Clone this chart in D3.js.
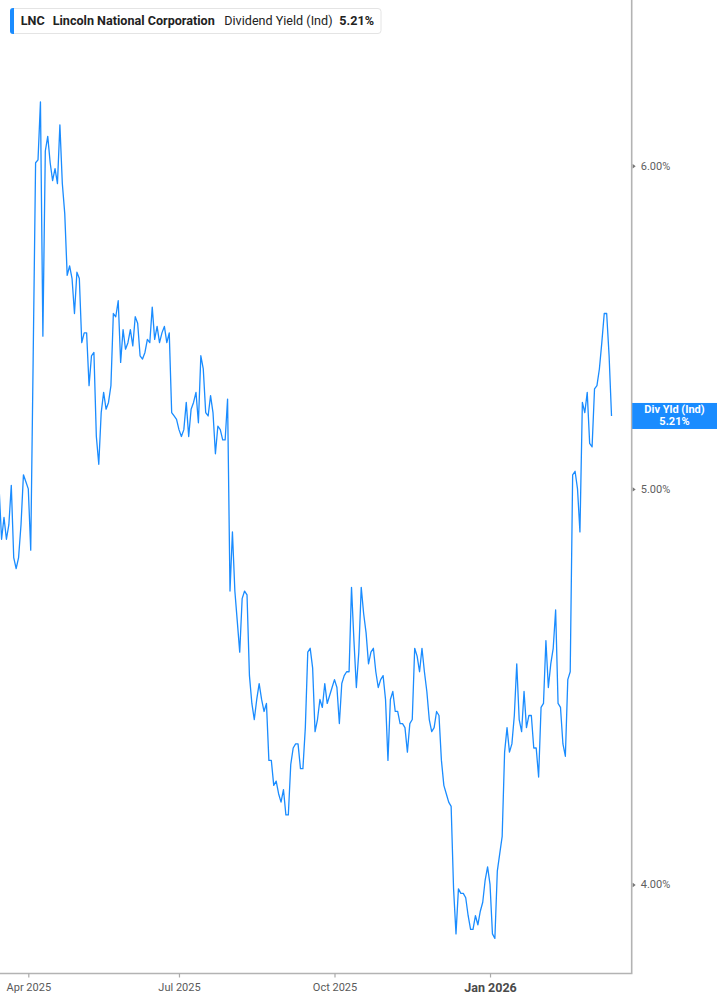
<!DOCTYPE html>
<html>
<head>
<meta charset="utf-8">
<script src="https://cdn.jsdelivr.net/npm/d3@7"></script>
<style>
  body { margin: 0; background: #fff; }
  text { font-family: Roboto, "Liberation Sans", sans-serif; }
</style>
</head>
<body>
<svg id="chart" width="717" height="1005"></svg>
<script>
const ticker = "LNC"
const company = "Lincoln National Corporation"
const metric = "Dividend Yield (Ind)"
const metricShort = "Div Yld (Ind)"

// daily dividend yield (%), one value per trading day, mid Mar 2025 -> mid Mar 2026
const yieldValues = [
  5.00, 4.86, 4.92, 4.86, 4.90, 5.01, 4.81, 4.78, 4.81, 4.90,
  5.04, 5.02, 5.00, 4.83, 5.38, 6.01, 6.02, 6.22, 5.45, 6.05,
  6.10, 6.01, 5.95, 5.99, 5.94, 6.14, 5.94, 5.84, 5.64, 5.67,
  5.63, 5.52, 5.65, 5.63, 5.43, 5.46, 5.46, 5.30, 5.39, 5.40,
  5.15, 5.07, 5.22, 5.28, 5.23, 5.25, 5.30, 5.52, 5.51, 5.56,
  5.37, 5.47, 5.41, 5.43, 5.47, 5.42, 5.51, 5.49, 5.39, 5.38,
  5.40, 5.44, 5.43, 5.54, 5.44, 5.48, 5.43, 5.46, 5.48, 5.43,
  5.46, 5.22, 5.21, 5.20, 5.17, 5.15, 5.17, 5.25, 5.15, 5.23,
  5.25, 5.28, 5.19, 5.39, 5.35, 5.22, 5.21, 5.27, 5.22, 5.10,
  5.18, 5.17, 5.14, 5.14, 5.26, 4.72, 4.88, 4.72, 4.64, 4.56,
  4.70, 4.72, 4.71, 4.50, 4.43, 4.39, 4.44, 4.48, 4.44, 4.41,
  4.43, 4.29, 4.29, 4.23, 4.24, 4.21, 4.19, 4.22, 4.16, 4.16,
  4.28, 4.32, 4.33, 4.33, 4.27, 4.27, 4.37, 4.56, 4.57, 4.52,
  4.36, 4.39, 4.44, 4.42, 4.48, 4.43, 4.45, 4.47, 4.49, 4.47,
  4.38, 4.48, 4.50, 4.51, 4.51, 4.73, 4.59, 4.47, 4.56, 4.73,
  4.66, 4.61, 4.53, 4.56, 4.57, 4.51, 4.47, 4.49, 4.50, 4.44,
  4.29, 4.44, 4.46, 4.41, 4.41, 4.38, 4.38, 4.37, 4.31, 4.38,
  4.39, 4.57, 4.55, 4.51, 4.57, 4.51, 4.46, 4.39, 4.36, 4.37,
  4.41, 4.40, 4.29, 4.23, 4.21, 4.19, 4.18, 3.99, 3.89, 3.99,
  3.98, 3.98, 3.97, 3.93, 3.90, 3.90, 3.93, 3.91, 3.94, 3.96,
  4.01, 4.04, 4.00, 3.89, 3.88, 4.03, 4.07, 4.11, 4.31, 4.37,
  4.31, 4.33, 4.40, 4.53, 4.39, 4.36, 4.46, 4.37, 4.40, 4.40,
  4.32, 4.32, 4.25, 4.42, 4.43, 4.59, 4.47, 4.53, 4.57, 4.67,
  4.43, 4.42, 4.33, 4.30, 4.49, 4.51, 5.04, 5.05, 5.00, 4.88,
  5.25, 5.22, 5.28, 5.13, 5.12, 5.29, 5.30, 5.35, 5.43, 5.52,
  5.52, 5.39, 5.21
]

const yTicks = [4, 5, 6]
// trading-day index of the first session of each labelled month
const xTickIdx = [12, 74, 138, 202]
const xTickLabels = ["Apr 2025", "Jul 2025", "Oct 2025", "Jan 2026"]

const plotW = 631.7
const plotH = 973.5
const lineColor = "#1a8cff"

const svg = d3.select("#chart")

const x = d3.scaleLinear().domain([0.354, 260.3]).range([0, plotW])
const y = d3.scaleLog().domain([3.804, 6.588]).range([plotH, 0])

svg.append("clipPath").attr("id", "plotclip")
  .append("rect").attr("x", 0).attr("y", 0).attr("width", plotW).attr("height", plotH)

const line = d3.line()
  .x((d, i) => x(i))
  .y(d => y(d))

svg.append("path")
  .datum(yieldValues)
  .attr("clip-path", "url(#plotclip)")
  .attr("fill", "none")
  .attr("stroke", lineColor)
  .attr("stroke-width", 1.3)
  .attr("stroke-linejoin", "round")
  .attr("d", line)

// frame: right and bottom border
svg.append("path")
  .attr("d", `M0,${plotH}H${plotW}V0`)
  .attr("fill", "none")
  .attr("stroke", "#b3b3b3")
  .attr("stroke-width", 1.6)

// y axis (right)
const yAxis = d3.axisRight(y)
  .tickValues(yTicks)
  .tickSize(0)
  .tickPadding(9)
  .tickFormat(d => d.toFixed(2) + "%")

const yg = svg.append("g").attr("transform", `translate(${plotW},0)`).call(yAxis)
yg.select(".domain").remove()
yg.selectAll("text")
  .attr("font-size", 11)
  .attr("fill", "#606060")
yg.selectAll(".tick").append("path")
  .attr("d", "M1,-2.2L4,0L1,2.2Z")
  .attr("fill", "#777")

// x axis (bottom)
const xAxis = d3.axisBottom(x)
  .tickValues(xTickIdx)
  .tickSize(4)
  .tickPadding(6)
  .tickFormat((d, i) => xTickLabels[i])

const xg = svg.append("g").attr("transform", `translate(0,${plotH})`).call(xAxis)
xg.select(".domain").remove()
xg.selectAll("line").attr("stroke", "#aaa").attr("stroke-width", 1.2)
xg.selectAll("text")
  .attr("font-size", 11)
  .attr("fill", "#5a5a5a")
  .filter((d, i) => xTickLabels[i].startsWith("Jan"))
  .attr("font-size", 12.5)
  .attr("font-weight", "bold")
  .attr("fill", "#4a4a4a")

// last value badge
const lastVal = yieldValues[yieldValues.length - 1]
const badgeY = y(lastVal)
const badge = svg.append("g")
badge.append("rect")
  .attr("x", plotW + 0.5).attr("y", badgeY - 13)
  .attr("width", 717 - plotW).attr("height", 26)
  .attr("fill", lineColor)
badge.append("text")
  .attr("x", 674.5).attr("y", badgeY - 2.5)
  .attr("text-anchor", "middle")
  .attr("font-size", 11).attr("font-weight", "bold").attr("fill", "#fff")
  .text(metricShort)
badge.append("text")
  .attr("x", 674.5).attr("y", badgeY + 9.5)
  .attr("text-anchor", "middle")
  .attr("font-size", 11).attr("font-weight", "bold").attr("fill", "#fff")
  .text(lastVal.toFixed(2) + "%")

// header legend
const head = svg.append("g")
head.append("rect")
  .attr("x", 10.5).attr("y", 8.5).attr("width", 370.5).attr("height", 25).attr("rx", 3)
  .attr("fill", "#fff").attr("stroke", "#e4e4e4")
head.append("path")
  .attr("d", "M13,8H14V34H13A3,3 0 0 1 10,31V11A3,3 0 0 1 13,8Z")
  .attr("fill", lineColor)
const ht = head.append("text").attr("y", 25.2).attr("font-size", 12.6).attr("fill", "#222")
ht.append("tspan").attr("x", 20.7).attr("font-weight", "bold").text(ticker)
ht.append("tspan").attr("x", 52.7).attr("font-weight", "bold").text(company)
ht.append("tspan").attr("x", 224.3).text(metric)
ht.append("tspan").attr("x", 339.3).attr("font-weight", "bold").text(lastVal.toFixed(2) + "%")
</script>
</body>
</html>
